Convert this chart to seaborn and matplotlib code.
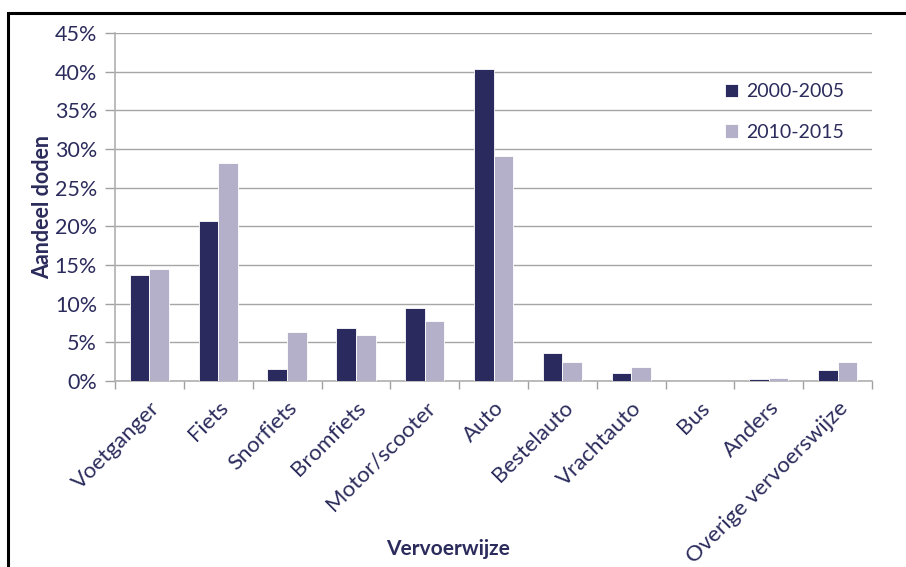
import matplotlib
matplotlib.use("Agg")
import matplotlib.pyplot as plt
import seaborn as sns
import pandas as pd
from matplotlib.patches import Rectangle
from matplotlib.ticker import FixedLocator, PercentFormatter

categories = ["Voetganger", "Fiets", "Snorfiets", "Bromfiets", "Motor/scooter",
              "Auto", "Bestelauto", "Vrachtauto", "Bus", "Anders",
              "Overige vervoerswijze"]
periode_2000_2005 = [13.7, 20.7, 1.6, 6.8, 9.5, 40.3, 3.6, 1.1, 0.05, 0.2, 1.4]
periode_2010_2015 = [14.5, 28.2, 6.3, 6.0, 7.7, 29.1, 2.5, 1.85, 0.05, 0.4, 2.5]
series_names = ["2000-2005", "2010-2015"]
y_ticks = [0, 5, 10, 15, 20, 25, 30, 35, 40, 45]

navy = "#2a2a5f"
lilac = "#b4b0c9"
text_col = "#2b2b5c"
grid_col = "#a6a6a6"

df = pd.DataFrame({
    "Vervoerwijze": categories * 2,
    "Aandeel": periode_2000_2005 + periode_2010_2015,
    "Periode": [series_names[0]] * len(categories) + [series_names[1]] * len(categories),
})

sns.set_theme(style="white")
plt.rcParams["font.family"] = ["Lato", "DejaVu Sans"]

fig = plt.figure(figsize=(9.06, 5.67), dpi=100)
ax = fig.add_axes([0.127, 0.328, 0.8355, 0.614])

sns.barplot(data=df, x="Vervoerwijze", y="Aandeel", hue="Periode",
            palette=[navy, lilac], width=0.57, saturation=1, gap=0,
            edgecolor="white", linewidth=0.6, ax=ax, zorder=3)

ax.set_ylim(0, 45)
ax.set_xlim(-0.5, len(categories) - 0.5)
ax.yaxis.set_major_locator(FixedLocator(y_ticks))
ax.yaxis.set_major_formatter(PercentFormatter(decimals=0))
ax.grid(axis="y", color=grid_col, linewidth=1.0, zorder=0)
ax.set_axisbelow(True)

for side in ["top", "right"]:
    ax.spines[side].set_visible(False)
for side in ["left", "bottom"]:
    ax.spines[side].set_color("#b0b0b0")
    ax.spines[side].set_linewidth(1.2)

# category separators as ticks below the axis
ax.set_xticks([i - 0.5 for i in range(len(categories) + 1)], minor=True)
ax.tick_params(axis="x", which="minor", length=6, width=1, color="#a0a0a0", direction="out", bottom=True)
ax.tick_params(axis="x", which="major", length=0, pad=12, bottom=True)
ax.tick_params(axis="y", which="major", length=7, width=1, color="#a0a0a0", direction="out", left=True, pad=6)

ax.set_xticks(range(len(categories)))
ax.set_xticklabels(categories, rotation=45, ha="right", rotation_mode="anchor",
                   fontsize=16, color=text_col)
for lab in ax.get_yticklabels():
    lab.set_fontsize(15.5)
    lab.set_color(text_col)

ax.set_xlabel("Vervoerwijze", fontsize=15, fontweight="bold", color=text_col)
ax.set_ylabel("Aandeel doden", fontsize=15.5, fontweight="bold", color=text_col, labelpad=1)
ax.xaxis.set_label_coords(0.44, -0.455)

leg = ax.legend(loc="upper left", bbox_to_anchor=(0.782, 0.905), frameon=False,
                fontsize=14, handlelength=0.7, handleheight=0.7, handletextpad=0.4,
                labelspacing=1.2, labelcolor=text_col)

# outer frame
fig.add_artist(Rectangle((8 / 906, -0.1), 1.1, 1 - 13 / 567 + 0.1, transform=fig.transFigure,
                         fill=False, edgecolor="black", linewidth=2.2))

fig.savefig("out.png", dpi=100)
